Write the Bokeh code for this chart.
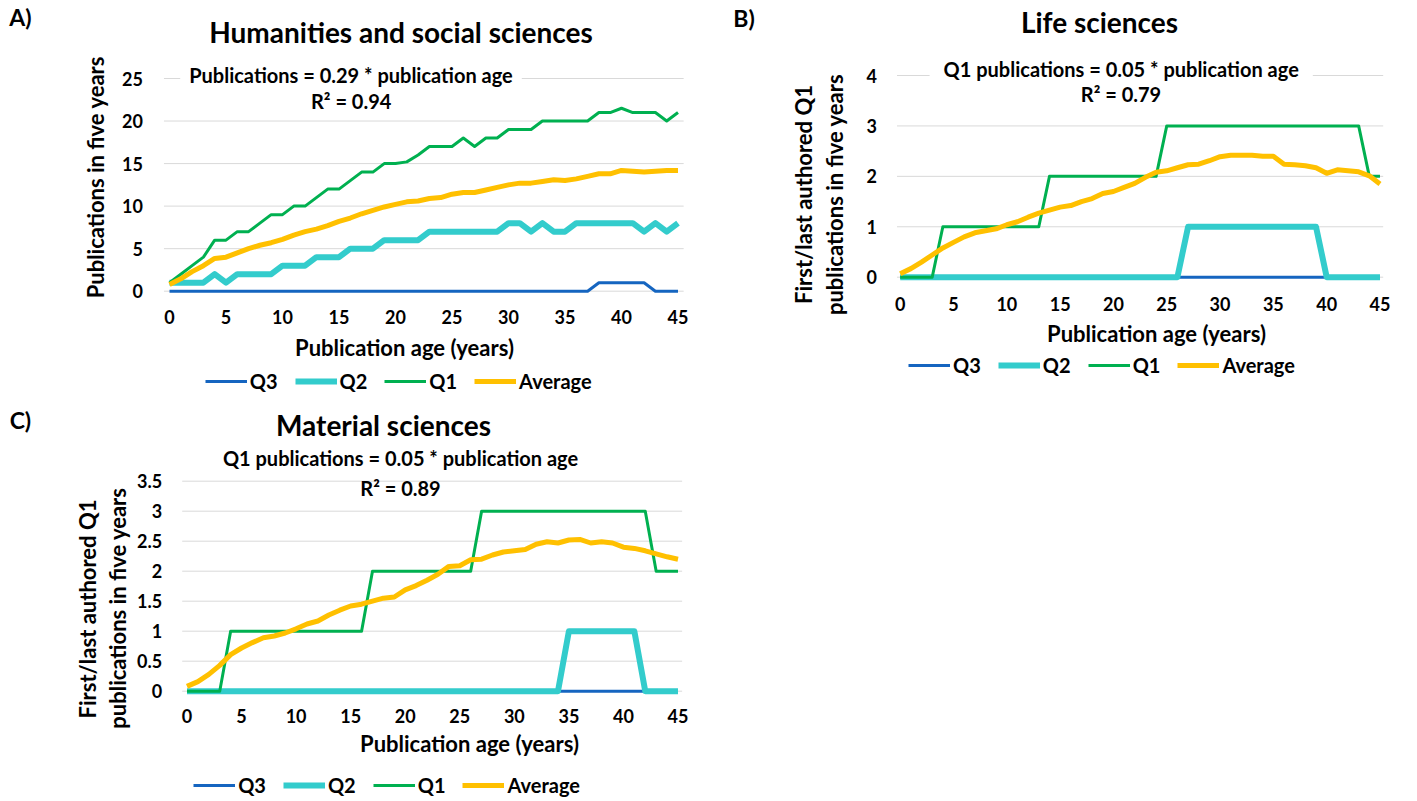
from bokeh.plotting import figure
from bokeh.models import Label, Legend, LegendItem, FixedTicker, LinearAxis, Range1d
from bokeh.embed import file_html
from bokeh.resources import INLINE

# ---------------- data ----------------
ages = [0, 1, 2, 3, 4, 5, 6, 7, 8, 9, 10, 11, 12, 13, 14, 15, 16, 17, 18, 19, 20, 21, 22,
        23, 24, 25, 26, 27, 28, 29, 30, 31, 32, 33, 34, 35, 36, 37, 38, 39, 40, 41, 42, 43, 44, 45]
x_ticks = [0, 5, 10, 15, 20, 25, 30, 35, 40, 45]
series_names = ["Q3", "Q2", "Q1", "Average"]

# A) Humanities and social sciences
a_q3 = [0, 0, 0, 0, 0, 0, 0, 0, 0, 0, 0, 0, 0, 0, 0, 0, 0, 0, 0, 0, 0, 0, 0,
        0, 0, 0, 0, 0, 0, 0, 0, 0, 0, 0, 0, 0, 0, 0, 1, 1, 1, 1, 1, 0, 0, 0]
a_q2 = [1, 1, 1, 1, 2, 1, 2, 2, 2, 2, 3, 3, 3, 4, 4, 4, 5, 5, 5, 6, 6, 6, 6,
        7, 7, 7, 7, 7, 7, 7, 8, 8, 7, 8, 7, 7, 8, 8, 8, 8, 8, 8, 7, 8, 7, 8]
a_q1 = [1, 2, 3, 4, 6, 6, 7, 7, 8, 9, 9, 10, 10, 11, 12, 12, 13, 14, 14, 15, 15, 15.2, 16,
        17, 17, 17, 18, 17, 18, 18, 19, 19, 19, 20, 20, 20, 20, 20, 21, 21, 21.5, 21, 21, 21, 20, 21]
a_avg = [0.8, 1.45, 2.3, 3.0, 3.85, 4.0, 4.5, 5.0, 5.4, 5.7, 6.1, 6.6, 7.0, 7.3, 7.7, 8.2, 8.6, 9.1, 9.5, 9.9,
         10.2, 10.5, 10.6, 10.9, 11.0, 11.4, 11.6, 11.6, 11.9, 12.2, 12.5, 12.7, 12.7, 12.9, 13.1, 13.0,
         13.2, 13.5, 13.8, 13.8, 14.2, 14.1, 14.0, 14.1, 14.2, 14.2]
a_yticks = [0, 5, 10, 15, 20, 25]

# B) Life sciences
b_q3 = [0, 0, 0, 0, 0, 0, 0, 0, 0, 0, 0, 0, 0, 0, 0, 0, 0, 0, 0, 0, 0, 0, 0,
        0, 0, 0, 0, 0, 0, 0, 0, 0, 0, 0, 0, 0, 0, 0, 0, 0, 0, 0, 0, 0, 0, 0]
b_q2 = [0, 0, 0, 0, 0, 0, 0, 0, 0, 0, 0, 0, 0, 0, 0, 0, 0, 0, 0, 0, 0, 0, 0,
        0, 0, 0, 0, 1, 1, 1, 1, 1, 1, 1, 1, 1, 1, 1, 1, 1, 0, 0, 0, 0, 0, 0]
b_q1 = [0, 0, 0, 0, 1, 1, 1, 1, 1, 1, 1, 1, 1, 1, 2, 2, 2, 2, 2, 2, 2, 2, 2,
        2, 2, 3, 3, 3, 3, 3, 3, 3, 3, 3, 3, 3, 3, 3, 3, 3, 3, 3, 3, 3, 2, 2]
b_avg = [0.07, 0.17, 0.3, 0.44, 0.58, 0.69, 0.8, 0.88, 0.92, 0.96, 1.04, 1.1, 1.19, 1.27, 1.33, 1.39,
         1.42, 1.5, 1.56, 1.66, 1.7, 1.78, 1.86, 1.98, 2.08, 2.11, 2.17, 2.23, 2.24, 2.31, 2.39, 2.42,
         2.42, 2.42, 2.4, 2.4, 2.24, 2.23, 2.21, 2.17, 2.06, 2.13, 2.11, 2.09, 2.01, 1.85]
b_yticks = [0, 1, 2, 3, 4]

# C) Material sciences
c_q3 = [0, 0, 0, 0, 0, 0, 0, 0, 0, 0, 0, 0, 0, 0, 0, 0, 0, 0, 0, 0, 0, 0, 0,
        0, 0, 0, 0, 0, 0, 0, 0, 0, 0, 0, 0, 0, 0, 0, 0, 0, 0, 0, 0, 0, 0, 0]
c_q2 = [0, 0, 0, 0, 0, 0, 0, 0, 0, 0, 0, 0, 0, 0, 0, 0, 0, 0, 0, 0, 0, 0, 0,
        0, 0, 0, 0, 0, 0, 0, 0, 0, 0, 0, 0, 1, 1, 1, 1, 1, 1, 1, 0, 0, 0, 0]
c_q1 = [0, 0, 0, 0, 1, 1, 1, 1, 1, 1, 1, 1, 1, 1, 1, 1, 1, 2, 2, 2, 2, 2, 2,
        2, 2, 2, 2, 3, 3, 3, 3, 3, 3, 3, 3, 3, 3, 3, 3, 3, 3, 3, 3, 2, 2, 2]
c_avg = [0.08, 0.16, 0.28, 0.43, 0.61, 0.72, 0.81, 0.89, 0.92, 0.97, 1.04, 1.12, 1.17, 1.27, 1.35, 1.42,
         1.45, 1.5, 1.55, 1.57, 1.69, 1.76, 1.85, 1.95, 2.08, 2.09, 2.19, 2.2, 2.27, 2.32, 2.34, 2.36,
         2.45, 2.49, 2.47, 2.52, 2.53, 2.47, 2.49, 2.47, 2.4, 2.38, 2.34, 2.29, 2.24, 2.2]
c_yticks = [0, 0.5, 1, 1.5, 2, 2.5, 3, 3.5]
c_ytick_labels = ["0", "0.5", "1", "1.5", "2", "2.5", "3", "3.5"]

# ---------------- style ----------------
W, H = 1416, 800
FONT = "Lato"
COLORS = {"Q3": "#1565C0", "Q2": "#33CCCC", "Q1": "#00B050", "Average": "#FFC000"}
WIDTHS = {"Q3": 3, "Q2": 6, "Q1": 3, "Average": 5}
TICK_SIZE = "18px"
AXIS_SIZE = "22px"
TITLE_SIZE = "28px"
EQ_SIZE = "20px"
LEG_SIZE = "20px"
TAG_SIZE = "23px"

# one canvas; default ranges are page pixels (y downward)
p = figure(width=W, height=H, x_range=Range1d(0, W), y_range=Range1d(H, 0),
           output_backend="svg", toolbar_location=None, min_border=0,
           x_axis_type=None, y_axis_type=None)
p.outline_line_color = None
p.background_fill_color = "white"
p.border_fill_color = "white"
p.xgrid.visible = False
p.ygrid.visible = False


def text(px, py, s, size, angle=0.0, **kw):
    p.add_layout(Label(x=px, y=py, text=s, text_font=FONT, text_font_style="bold",
                       text_font_size=size, text_color="black", text_align="center",
                       text_baseline="middle", angle=angle, **kw))


def panel(name, series, yticks, ylabels, px0, kx, py0, ky, grid_lo, grid_hi, ystandoff, xstandoff):
    xs = -px0 / kx
    ys = -(H - py0) / ky
    p.extra_x_ranges[name] = Range1d(xs, xs + W / kx)
    p.extra_y_ranges[name] = Range1d(ys, ys + H / ky)
    n = len(yticks)
    p.segment(x0=[grid_lo] * n, y0=yticks, x1=[grid_hi] * n, y1=yticks,
              x_range_name=name, y_range_name=name, line_color="#D9D9D9", line_width=1)
    rs = {}
    for nm, vals in zip(series_names, series):
        rs[nm] = p.line(ages, vals, x_range_name=name, y_range_name=name,
                        line_color=COLORS[nm], line_width=WIDTHS[nm], line_join="round")
    xax = LinearAxis(x_range_name=name, y_range_name=name, fixed_location=0,
                     ticker=FixedTicker(ticks=x_ticks))
    yax = LinearAxis(x_range_name=name, y_range_name=name, fixed_location=grid_lo,
                     ticker=FixedTicker(ticks=yticks))
    if ylabels is not None:
        yax.major_label_overrides = {t: s for t, s in zip(yticks, ylabels)}
    for ax in (xax, yax):
        ax.axis_line_color = None
        ax.major_tick_line_color = None
        ax.minor_tick_line_color = None
        ax.major_tick_out = 0
        ax.major_tick_in = 0
        ax.minor_tick_out = 0
        ax.minor_tick_in = 0
        ax.major_label_text_font = FONT
        ax.major_label_text_font_style = "bold"
        ax.major_label_text_font_size = TICK_SIZE
        ax.major_label_text_color = "black"
    xax.major_label_standoff = xstandoff
    yax.major_label_standoff = ystandoff
    p.add_layout(xax, "below")
    p.add_layout(yax, "left")
    return rs


def legend(rs, left_px, center_py):
    items = [LegendItem(label=nm, renderers=[rs[nm]]) for nm in series_names]
    leg = Legend(items=items, orientation="horizontal", location=(left_px, H - center_py - 12),
                 glyph_width=42, glyph_height=24, label_standoff=3, spacing=17, padding=0, margin=0,
                 border_line_color=None, background_fill_alpha=0,
                 label_text_font=FONT, label_text_font_style="bold", label_text_font_size=LEG_SIZE,
                 label_text_color="black", label_height=24)
    p.add_layout(leg)


# ---- Panel A ----
rA = panel("A", [a_q3, a_q2, a_q1, a_avg], a_yticks, None, 169, 11.3, 290.7, 8.508, -0.49, 45.5, 21, 19)
text(20, 16.5, "A)", TAG_SIZE)
text(400.5, 31.7, "Humanities and social sciences", TITLE_SIZE)
text(350.5, 74, "Publications = 0.29 * publication age", EQ_SIZE,
     background_fill_color="white", padding=dict(left=9, right=9, top=0, bottom=0))
text(350.7, 100, "R\u00b2 = 0.94", EQ_SIZE)
text(94.7, 176.7, "Publications in five years", AXIS_SIZE, angle=1.5707963)
text(404, 346.7, "Publication age (years)", AXIS_SIZE)
legend(rA, 204.8, 381)

# ---- Panel B ----
rB = panel("B", [b_q3, b_q2, b_q1, b_avg], b_yticks, None, 899.7, 10.662, 276.7, 50.425, -0.3, 45.3, 20, 20)
text(743.5, 17, "B)", TAG_SIZE)
text(1099, 21, "Life sciences", TITLE_SIZE)
text(1120.7, 68.3, "Q1 publications = 0.05 * publication age", EQ_SIZE,
     background_fill_color="white", padding=dict(left=14, right=14, top=0, bottom=0))
text(1120.5, 93.3, "R\u00b2 = 0.79", EQ_SIZE)
text(803, 194, "First/last authored Q1", AXIS_SIZE, angle=1.5707963)
text(834, 194, "publications in five years", AXIS_SIZE, angle=1.5707963)
text(1156, 333.3, "Publication age (years)", AXIS_SIZE)
legend(rB, 908.1, 365)

# ---- Panel C ----
rC = panel("C", [c_q3, c_q2, c_q1, c_avg], c_yticks, c_ytick_labels, 186.5, 10.911, 690.7, 60.0, -0.44, 45.38, 20, 18)
text(19.9, 419, "C)", TAG_SIZE)
text(383, 424, "Material sciences", TITLE_SIZE)
text(400, 462, "Q1 publications = 0.05 * publication age", EQ_SIZE,
     background_fill_color="white", padding=dict(left=20, right=20, top=0, bottom=10))
text(400, 487, "R\u00b2 = 0.89", EQ_SIZE)
text(86.7, 608.5, "First/last authored Q1", AXIS_SIZE, angle=1.5707963)
text(117, 607.6, "publications in five years", AXIS_SIZE, angle=1.5707963)
text(469, 743, "Publication age (years)", AXIS_SIZE)
legend(rC, 193.2, 785)

open("out.html", "w").write(file_html(p, INLINE))
